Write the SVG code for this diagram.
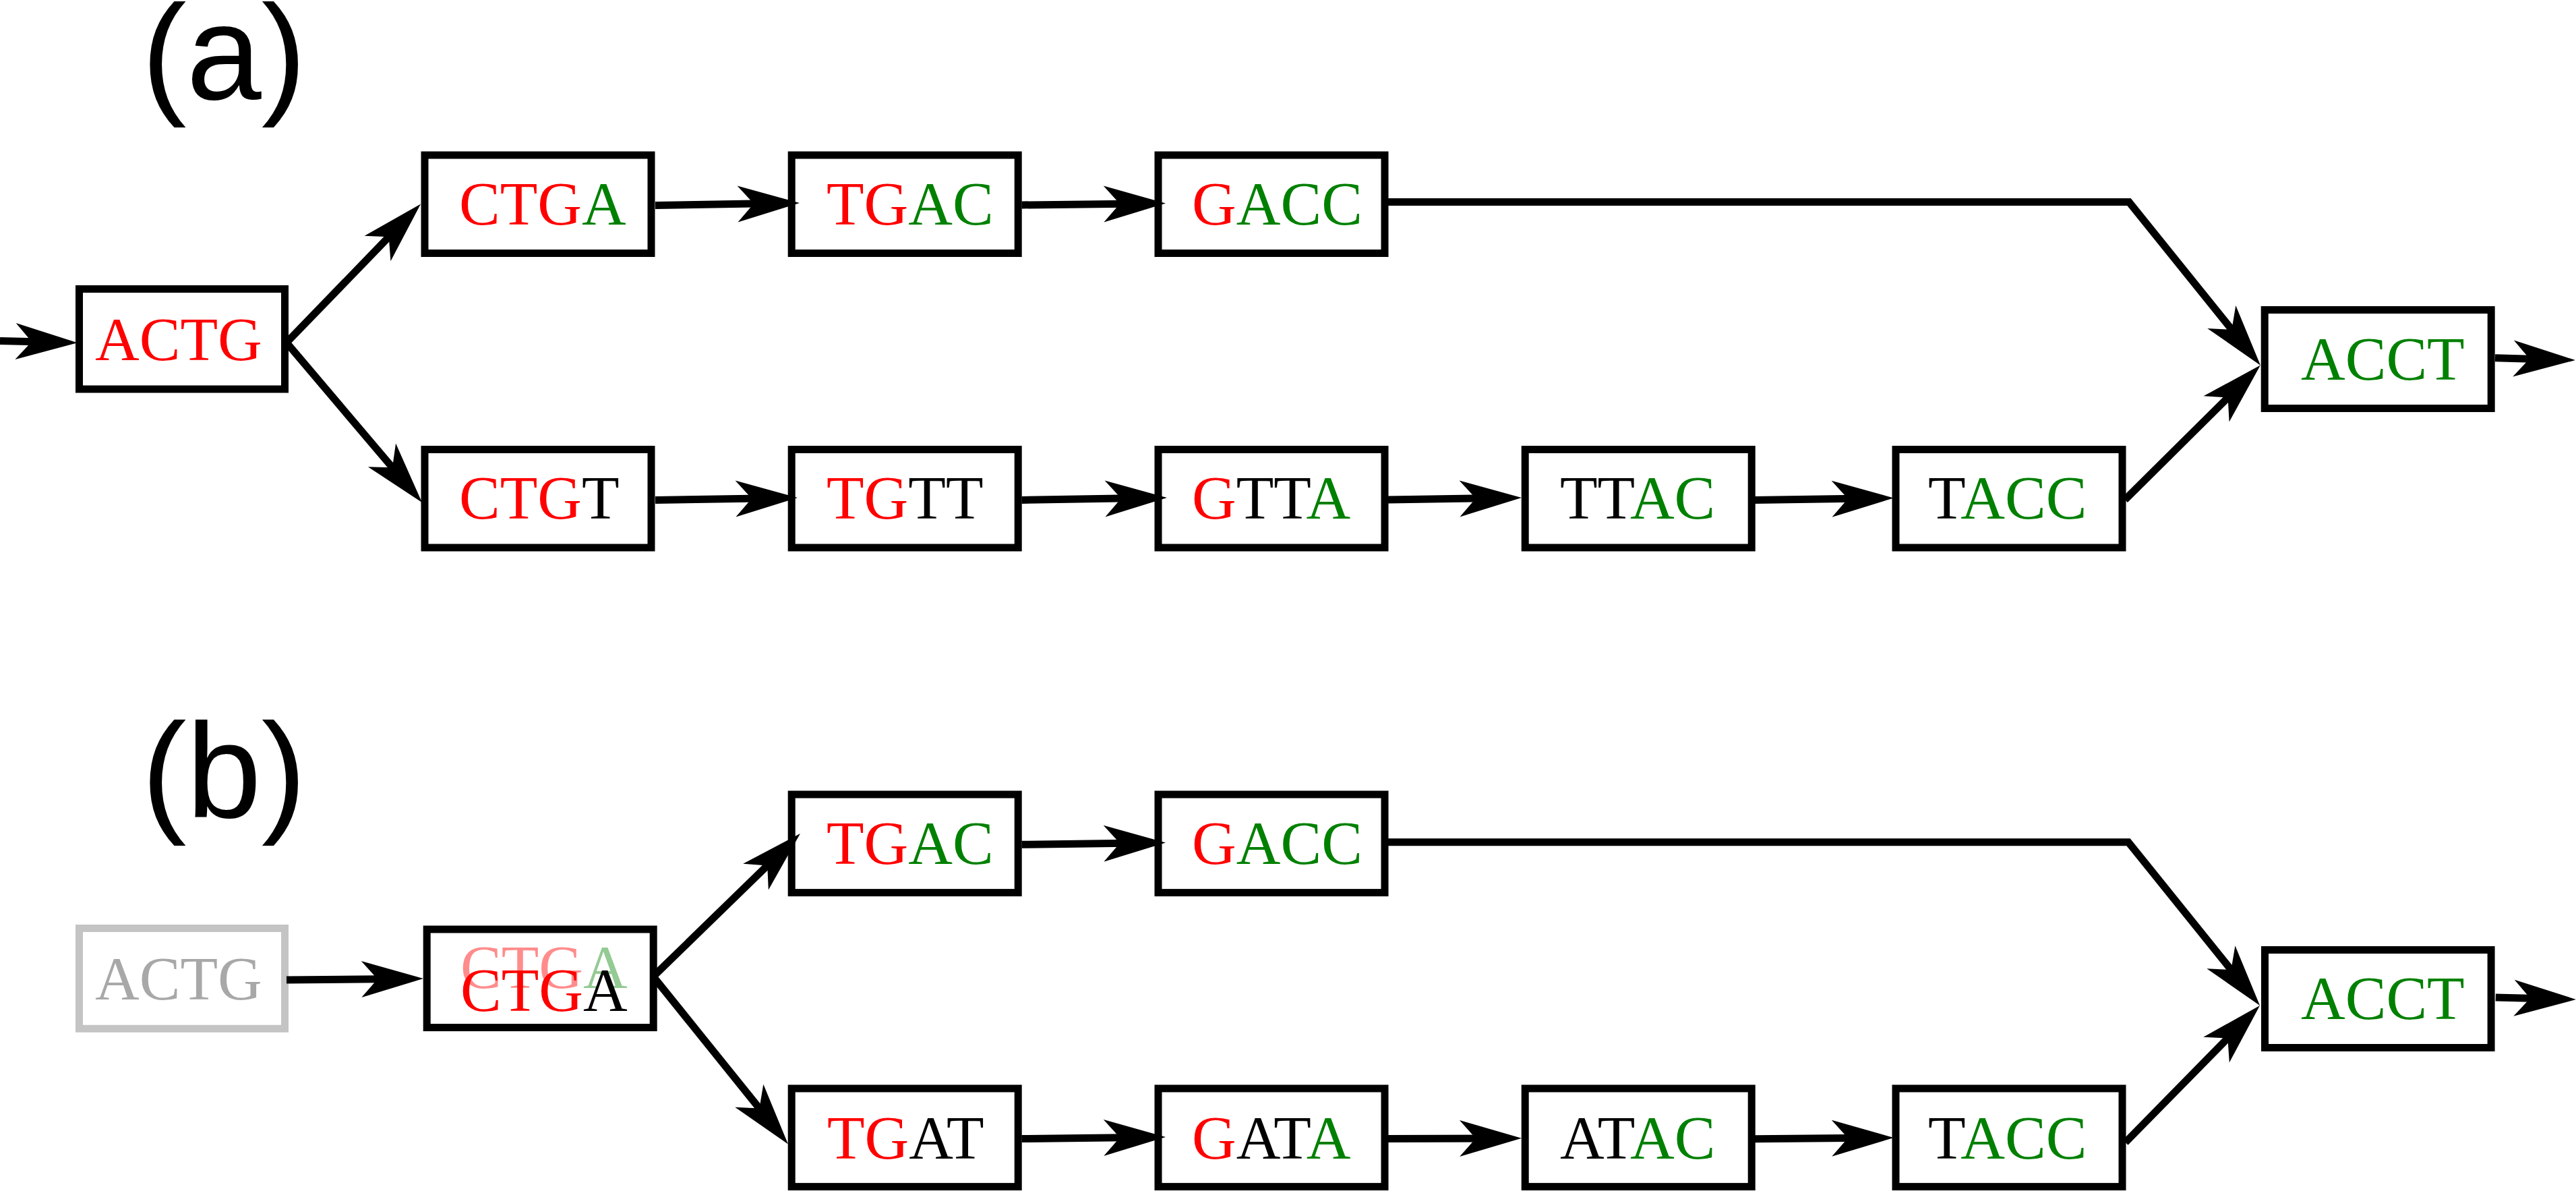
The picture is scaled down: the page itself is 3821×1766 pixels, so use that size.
<svg xmlns="http://www.w3.org/2000/svg" width="3821" height="1766" viewBox="0 0 3821 1766">
<style>
.box{fill:#fff;stroke:#000;stroke-width:11}
.gbox{fill:#fff;stroke:#c4c4c4;stroke-width:11}
.seq{font-family:"Liberation Serif","Times New Roman",serif;font-size:91px}
.lbl{font-family:"Liberation Sans",Arial,sans-serif;font-size:200px;fill:#000}
.r{fill:#ff0000}.g{fill:#008000}.k{fill:#000}.gr{fill:#a8a8a8}
.fr{fill:#ff0000;fill-opacity:0.45}.fg{fill:#008000;fill-opacity:0.42}
.edge{fill:none;stroke:#000;stroke-width:11;stroke-linejoin:miter;marker-end:url(#ah)}
</style>
<defs>
<marker id="ah" markerUnits="userSpaceOnUse" orient="auto" refX="0" refY="0" markerWidth="1" markerHeight="1" overflow="visible">
<path d="M40,0 L-52,-27 L-28,0 L-52,27 Z" fill="#000"/>
</marker>
</defs>
<rect width="3821" height="1766" fill="#fff"/>

<text class="lbl" x="210" y="147">(a)</text>
<text class="lbl" x="210" y="1212">(b)</text>

<!-- (a) nodes -->
<g id="a-ACTG"><rect class="box" x="117.5" y="428.5" width="305" height="148.5"/><text class="seq" x="141" y="534"><tspan class="r">ACTG</tspan></text></g>
<g id="a-CTGA"><rect class="box" x="630" y="230" width="336" height="145.5"/><text class="seq" x="681" y="333"><tspan class="r">CTG</tspan><tspan class="g">A</tspan></text></g>
<g id="a-TGAC"><rect class="box" x="1174.2" y="230" width="336" height="145.5"/><text class="seq" x="1226" y="333"><tspan class="r">TG</tspan><tspan class="g">AC</tspan></text></g>
<g id="a-GACC"><rect class="box" x="1718" y="230" width="336" height="145.5"/><text class="seq" x="1768" y="333"><tspan class="r">G</tspan><tspan class="g">ACC</tspan></text></g>
<g id="a-CTGT"><rect class="box" x="630" y="666.5" width="336" height="145.5"/><text class="seq" x="681" y="769"><tspan class="r">CTG</tspan><tspan class="k">T</tspan></text></g>
<g id="a-TGTT"><rect class="box" x="1174.2" y="666.5" width="336" height="145.5"/><text class="seq" x="1226" y="769"><tspan class="r">TG</tspan><tspan class="k">TT</tspan></text></g>
<g id="a-GTTA"><rect class="box" x="1718" y="666.5" width="336" height="145.5"/><text class="seq" x="1768" y="769"><tspan class="r">G</tspan><tspan class="k">TT</tspan><tspan class="g">A</tspan></text></g>
<g id="a-TTAC"><rect class="box" x="2262.2" y="666.5" width="336" height="145.5"/><text class="seq" x="2314" y="769"><tspan class="k">TT</tspan><tspan class="g">AC</tspan></text></g>
<g id="a-TACC"><rect class="box" x="2812" y="666.5" width="336" height="145.5"/><text class="seq" x="2860" y="769"><tspan class="k">T</tspan><tspan class="g">ACC</tspan></text></g>
<g id="a-ACCT"><rect class="box" x="3359.2" y="459.5" width="336" height="146"/><text class="seq" x="3413" y="563"><tspan class="g">ACCT</tspan></text></g>

<!-- (b) nodes -->
<g id="b-ACTG"><rect class="gbox" x="117.5" y="1376.5" width="305" height="148.8"/><text class="seq" x="141" y="1482"><tspan class="gr">ACTG</tspan></text></g>
<g id="b-CTGA"><rect class="box" x="633.2" y="1378" width="336" height="145.6"/>
<text class="seq" x="683" y="1465"><tspan class="fr">CTG</tspan><tspan class="fg">A</tspan></text>
<text class="seq" x="683" y="1499"><tspan class="r">CTG</tspan><tspan class="k">A</tspan></text></g>
<g id="b-TGAC"><rect class="box" x="1174.2" y="1178" width="336" height="145.6"/><text class="seq" x="1226" y="1281"><tspan class="r">TG</tspan><tspan class="g">AC</tspan></text></g>
<g id="b-GACC"><rect class="box" x="1718" y="1178" width="336" height="145.6"/><text class="seq" x="1768" y="1281"><tspan class="r">G</tspan><tspan class="g">ACC</tspan></text></g>
<g id="b-TGAT"><rect class="box" x="1174.2" y="1614" width="336" height="145.6"/><text class="seq" x="1227" y="1718"><tspan class="r">TG</tspan><tspan class="k">AT</tspan></text></g>
<g id="b-GATA"><rect class="box" x="1718" y="1614" width="336" height="145.6"/><text class="seq" x="1768" y="1718"><tspan class="r">G</tspan><tspan class="k">AT</tspan><tspan class="g">A</tspan></text></g>
<g id="b-ATAC"><rect class="box" x="2262.2" y="1614" width="336" height="145.6"/><text class="seq" x="2314" y="1718"><tspan class="k">AT</tspan><tspan class="g">AC</tspan></text></g>
<g id="b-TACC"><rect class="box" x="2812" y="1614" width="336" height="145.6"/><text class="seq" x="2860" y="1718"><tspan class="k">T</tspan><tspan class="g">ACC</tspan></text></g>
<g id="b-ACCT"><rect class="box" x="3359.5" y="1408.5" width="335.6" height="145"/><text class="seq" x="3413" y="1511"><tspan class="g">ACCT</tspan></text></g>

<g id="connectors">
<!-- (a) -->
<path class="edge" d="M0,505.5 L75,507.3"/>
<path class="edge" d="M425,508 L596.2,331.2"/>
<path class="edge" d="M425,508 L600.1,714.5"/>
<path class="edge" d="M972,304.5 L1146,301.6"/>
<path class="edge" d="M1515.5,304 L1689,301.9"/>
<path class="edge" d="M2059,299.5 L3158,299.5 L3327.9,510.5"/>
<path class="edge" d="M972,741.5 L1143,738.7"/>
<path class="edge" d="M1515.5,741.4 L1691,738.6"/>
<path class="edge" d="M2059,741 L2217,738.6"/>
<path class="edge" d="M2602,741.6 L2769,739"/>
<path class="edge" d="M3152,741 L3324.5,569.8"/>
<path class="edge" d="M3701,530.7 L3780,532.9"/>
<!-- (b) -->
<path class="edge" d="M425,1453 L588,1451.4"/>
<path class="edge" d="M969,1448 L1158.3,1263.9"/>
<path class="edge" d="M969,1448 L1143.9,1665.3"/>
<path class="edge" d="M1515.5,1252.3 L1689,1250"/>
<path class="edge" d="M2059,1248.7 L3157,1248.7 L3327,1459.8"/>
<path class="edge" d="M1515.5,1688.5 L1689,1686.5"/>
<path class="edge" d="M2059,1688.5 L2217,1687.9"/>
<path class="edge" d="M2603,1688.7 L2769,1687.3"/>
<path class="edge" d="M3152.6,1694 L3324,1519.5"/>
<path class="edge" d="M3701.8,1479 L3781,1481"/>
</g>
</svg>
